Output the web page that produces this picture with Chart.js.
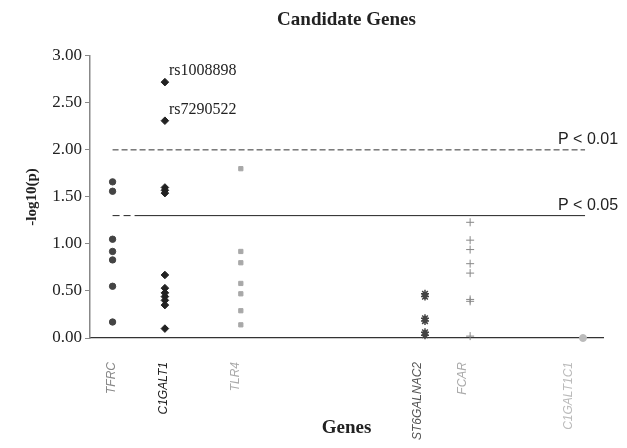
<!DOCTYPE html>
<html>
<head>
<meta charset="utf-8">
<script src="https://cdn.jsdelivr.net/npm/chart.js@4.4.1/dist/chart.umd.min.js"></script>
<style>
  html, body { margin: 0; padding: 0; background: #fff; }
</style>
</head>
<body>
<canvas id="genesChart" width="627" height="448"></canvas>
<script>
const genes = ["TFRC", "C1GALT1", "TLR4", "ST6GALNAC2", "FCAR", "C1GALT1C1"];
const genePos = [4.4, 14.6, 29.4, 65.3, 74.1, 96.1];
const labelPos = [4.2, 14.4, 28.4, 63.9, 72.6, 93.3];
const labelColors = ["#888888", "#222222", "#aaaaaa", "#555555", "#aaaaaa", "#bbbbbb"];

const tfrc = [1.66, 1.56, 1.05, 0.92, 0.83, 0.55, 0.17];
const c1galt1 = [2.72, 2.31, 1.60, 1.57, 1.54, 0.67, 0.53, 0.48, 0.44, 0.40, 0.35, 0.10];
const tlr4 = [1.80, 0.92, 0.80, 0.58, 0.47, 0.29, 0.14];
const st6galnac2 = [0.47, 0.44, 0.21, 0.18, 0.06, 0.03];
const fcar = [1.23, 1.04, 0.94, 0.79, 0.69, 0.41, 0.39, 0.02];
const c1galt1c1 = [0.00];

const snpLabels = ["rs1008898", "rs7290522"];
const thresholds = [2.0, 1.301];
const thresholdLabels = ["P < 0.01", "P < 0.05"];
const lineStart = 4.4;
const lineEnd = 96.5;

const yTicks = [0, 0.5, 1, 1.5, 2, 2.5, 3];

function pts(i, vals) {
	return vals.map(v => ({ x: genePos[i], y: v }));
}

const annotate = {
	id: "annotate",
	afterDatasetsDraw(chart) {
		const { ctx, chartArea, scales: { x, y } } = chart;
		ctx.save();
		ctx.fillStyle = "#222";
		ctx.textBaseline = "middle";
		ctx.font = '16px "Liberation Serif"';
		snpLabels.forEach((t, i) => {
			ctx.fillText(t, x.getPixelForValue(genePos[1]) + 4, y.getPixelForValue(c1galt1[i]) - 11);
		});
		ctx.font = '16px "Liberation Sans"';
		thresholds.forEach((v, i) => {
			ctx.fillText(thresholdLabels[i], chartArea.right - 45, y.getPixelForValue(v) - 10);
		});
		ctx.restore();
	}
};

const myChart = new Chart(document.getElementById("genesChart"), {
	type: "scatter",
	data: {
		datasets: [
			{
				data: pts(0, tfrc),
				pointStyle: "circle",
				pointRadius: 3.2,
				backgroundColor: "#444",
				borderColor: "#444",
			},
			{
				data: pts(1, c1galt1),
				pointStyle: "rectRot",
				pointRadius: 3.8,
				backgroundColor: "#222",
				borderColor: "#222",
			},
			{
				data: pts(2, tlr4),
				pointStyle: "rect",
				pointRadius: 3,
				backgroundColor: "#a8a8a8",
				borderColor: "#a8a8a8",
			},
			{
				data: pts(3, st6galnac2),
				pointStyle: "star",
				pointRadius: 4,
				borderWidth: 1.5,
				backgroundColor: "#444",
				borderColor: "#444",
			},
			{
				data: pts(4, fcar),
				pointStyle: "cross",
				pointRadius: 4,
				borderWidth: 1,
				backgroundColor: "#888",
				borderColor: "#888",
			},
			{
				data: pts(5, c1galt1c1),
				pointStyle: "circle",
				pointRadius: 3.5,
				backgroundColor: "#bbb",
				borderColor: "#bbb",
			},
			{
				data: [{ x: lineStart, y: thresholds[0] }, { x: lineEnd, y: thresholds[0] }],
				showLine: true,
				pointRadius: 0,
				borderWidth: 1,
				borderColor: "#333",
				borderDash: [6, 3],
			},
			{
				data: [{ x: lineStart, y: thresholds[1] }, { x: lineEnd, y: thresholds[1] }],
				showLine: true,
				pointRadius: 0,
				borderWidth: 1,
				borderColor: "#222",
				borderDash: [7, 4, 7, 4, 1000],
			},
		],
	},
	options: {
		responsive: false,
		animation: false,
		devicePixelRatio: 1,
		clip: false,
		layout: { padding: { left: 0, right: 24, top: 0, bottom: 0 } },
		plugins: {
			legend: { display: false },
			tooltip: { enabled: false },
			title: {
				display: true,
				fullSize: false,
				text: "Candidate Genes",
				color: "#222",
				font: { family: '"Liberation Serif"', size: 19, weight: "bold" },
				padding: { top: 9, bottom: 24 },
			},
		},
		scales: {
			x: {
				type: "linear",
				min: 0,
				max: 100,
				afterBuildTicks: (scale) => {
					scale.ticks = labelPos.map(v => ({ value: v }));
				},
				afterFit: (scale) => {
					scale.height = 110;
				},
				grid: { display: false, drawTicks: false },
				border: { display: true, color: "#333", width: 1.2 },
				ticks: {
					autoSkip: false,
					minRotation: 90,
					maxRotation: 90,
					padding: 24,
					font: { family: '"Liberation Sans"', size: 12, style: "italic" },
					color: (c) => labelColors[c.index],
					callback: (v, i) => genes[i],
				},
				title: {
					display: true,
					text: "Genes",
					color: "#222",
					font: { family: '"Liberation Serif"', size: 19, weight: "bold" },
					padding: { top: 0, bottom: 9 },
				},
			},
			y: {
				min: 0,
				max: 3,
				afterBuildTicks: (scale) => {
					scale.ticks = yTicks.map(v => ({ value: v }));
				},
				afterFit: (scale) => {
					scale.width = 90;
				},
				grid: { drawOnChartArea: false, drawTicks: true, tickLength: 5, color: "#888" },
				border: { display: true, color: "#888", width: 1.5 },
				ticks: {
					padding: 3,
					color: "#222",
					font: { family: '"Liberation Serif"', size: 17 },
					callback: (v) => v.toFixed(2),
				},
				title: {
					display: true,
					text: "-log10(p)",
					color: "#222",
					font: { family: '"Liberation Serif"', size: 15, weight: "bold" },
					padding: { top: 23, bottom: 0 },
				},
			},
		},
	},
	plugins: [annotate],
});
</script>
</body>
</html>
